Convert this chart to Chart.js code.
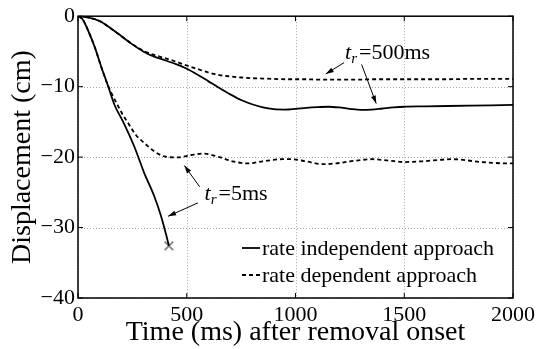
<!DOCTYPE html>
<html lang="en">
<head>
<meta charset="UTF-8">
<title>Displacement after removal onset</title>
<script src="https://cdn.jsdelivr.net/npm/chart.js@4.4.0/dist/chart.umd.min.js"></script>
<style>
  html, body { margin: 0; padding: 0; background: #fff; }
</style>
</head>
<body>
<canvas id="chart" width="539" height="349"></canvas>
<script>
// axis ticks
const xTicks = [0, 500, 1000, 1500, 2000];
const xTickLabels = ['0', '500', '1000', '1500', '2000'];
const yTicks = [0, -10, -20, -30, -40];
const yTickLabels = ['0', '\u221210', '\u221220', '\u221230', '\u221240'];

// t_r = 500 ms
const t500 = [0, 50, 100, 150, 200, 250, 300, 350, 400, 450, 500, 550, 600, 650, 700, 750, 800, 850, 900, 950,
              1000, 1050, 1100, 1150, 1200, 1250, 1300, 1350, 1400, 1450, 1500, 1600, 1700, 1800, 1900, 2000];
const indep500 = [0, -0.2, -0.7, -1.7, -2.85, -4.0, -5.0, -5.75, -6.25, -6.8, -7.45, -8.3, -9.25, -10.2, -11.1, -11.9, -12.5, -12.95, -13.2, -13.25,
                  -13.15, -13.0, -12.9, -12.85, -12.95, -13.15, -13.3, -13.25, -13.1, -12.95, -12.85, -12.8, -12.75, -12.7, -12.65, -12.6];
const dep500 = [0, -0.2, -0.7, -1.7, -2.85, -3.95, -4.9, -5.5, -5.95, -6.45, -7.0, -7.5, -8.0, -8.35, -8.55, -8.7, -8.8, -8.85, -8.9, -8.95,
                -8.95, -8.95, -9.0, -9.0, -9.0, -9.0, -9.0, -8.95, -8.95, -8.95, -8.95, -8.95, -8.95, -8.9, -8.9, -8.9];

// t_r = 5 ms
const t5 = [0, 20, 46, 76, 107, 137, 168, 206, 260, 305, 351, 382, 405, 418];
const indep5 = [0, -0.4, -2.0, -4.3, -7.2, -9.8, -12.6, -14.9, -18.6, -22.3, -25.6, -28.4, -31.0, -32.6];
const t5d = [0, 20, 46, 76, 107, 137, 160, 185, 206, 229, 267, 305, 351, 397, 458, 521, 574, 650, 711, 780, 849,
             940, 985, 1048, 1124, 1185, 1277, 1352, 1430, 1500, 1582, 1719, 1857, 1980, 2000];
const dep5 = [0, -0.4, -2.0, -4.3, -7.2, -9.8, -11.3, -12.8, -14.0, -15.1, -16.9, -18.0, -19.2, -19.9, -20.05, -19.7, -19.5, -20.0, -20.6, -20.9, -20.6,
              -20.3, -20.3, -20.6, -21.0, -20.9, -20.5, -20.3, -20.5, -20.7, -20.6, -20.3, -20.7, -20.9, -20.9];

// end of the 5 ms rate independent run
const stopX = [418];
const stopY = [-32.6];

// annotations, in data units
const notes = [
  { label: '500ms', x: 1228, y: -6.1 },
  { label: '5ms', x: 582, y: -26.1 }
];
const arrows = [
  [1223, -6.6, 1139, -8.2],
  [1304, -6.85, 1371, -12.4],
  [559, -24.2, 489, -21.2],
  [551, -26.5, 414, -28.4]
];

const serif = '"Liberation Serif", "Times New Roman", serif';
const pts = (xs, ys) => xs.map((x, i) => ({ x: x, y: ys[i] }));

const line = (label, xs, ys, dash) => ({
  label: label,
  data: pts(xs, ys),
  borderColor: '#000',
  borderWidth: 1.8,
  borderDash: dash,
  pointRadius: 0,
  fill: false,
  cubicInterpolationMode: 'monotone'
});

// dotted grid under the data
const dotGrid = {
  id: 'dotGrid',
  beforeDatasetsDraw(chart) {
    const { ctx, chartArea: a, scales: { x, y } } = chart;
    ctx.save();
    ctx.strokeStyle = '#a8a8a8';
    ctx.lineWidth = 1;
    ctx.setLineDash([1, 2]);
    ctx.beginPath();
    xTicks.forEach(v => {
      const px = Math.round(x.getPixelForValue(v)) + 0.5;
      ctx.moveTo(px, a.top); ctx.lineTo(px, a.bottom);
    });
    yTicks.forEach(v => {
      const py = Math.round(y.getPixelForValue(v)) + 0.5;
      ctx.moveTo(a.left, py); ctx.lineTo(a.right, py);
    });
    ctx.stroke();
    ctx.restore();
  }
};

const frame = {
  id: 'frame',
  afterDatasetsDraw(chart) {
    const { ctx, chartArea: a, scales: { x, y } } = chart;
    ctx.save();
    ctx.strokeStyle = '#000';
    ctx.lineWidth = 1;
    ctx.beginPath();
    xTicks.forEach(v => {
      const px = x.getPixelForValue(v);
      ctx.moveTo(px, a.bottom); ctx.lineTo(px, a.bottom - 5);
      ctx.moveTo(px, a.top); ctx.lineTo(px, a.top + 5);
    });
    yTicks.forEach(v => {
      const py = y.getPixelForValue(v);
      ctx.moveTo(a.left, py); ctx.lineTo(a.left + 5, py);
      ctx.moveTo(a.right, py); ctx.lineTo(a.right - 5, py);
    });
    ctx.stroke();
    ctx.lineWidth = 1.5;
    ctx.strokeRect(a.left, a.top, a.right - a.left, a.bottom - a.top);

    // arrows
    ctx.fillStyle = '#000';
    ctx.lineWidth = 1;
    arrows.forEach(([x0, y0, x1, y1]) => {
      const ax = x.getPixelForValue(x0), ay = y.getPixelForValue(y0);
      const bx = x.getPixelForValue(x1), by = y.getPixelForValue(y1);
      const ang = Math.atan2(by - ay, bx - ax);
      ctx.beginPath();
      ctx.moveTo(ax, ay); ctx.lineTo(bx, by);
      ctx.stroke();
      ctx.beginPath();
      ctx.moveTo(bx, by);
      ctx.lineTo(bx - 8 * Math.cos(ang) + 2.5 * Math.sin(ang), by - 8 * Math.sin(ang) - 2.5 * Math.cos(ang));
      ctx.lineTo(bx - 8 * Math.cos(ang) - 2.5 * Math.sin(ang), by - 8 * Math.sin(ang) + 2.5 * Math.cos(ang));
      ctx.closePath();
      ctx.fill();
    });

    // t_r labels
    ctx.textBaseline = 'alphabetic';
    ctx.textAlign = 'left';
    notes.forEach(n => {
      let px = x.getPixelForValue(n.x);
      const py = y.getPixelForValue(n.y);
      ctx.font = 'italic 22px ' + serif;
      ctx.fillText('t', px, py);
      px += ctx.measureText('t').width;
      ctx.font = 'italic 15px ' + serif;
      ctx.fillText('r', px, py + 4);
      px += ctx.measureText('r').width + 2;
      ctx.font = '22px ' + serif;
      ctx.fillText('=' + n.label, px, py);
    });

    // legend
    const items = chart.data.datasets.slice(0, 2);
    ctx.font = '22px ' + serif;
    ctx.textBaseline = 'middle';
    items.forEach((ds, i) => {
      const ly = 248 + i * 27;
      ctx.save();
      ctx.lineWidth = 1.8;
      ctx.setLineDash(ds.borderDash || []);
      ctx.beginPath();
      ctx.moveTo(242, ly); ctx.lineTo(260, ly);
      ctx.stroke();
      ctx.restore();
      ctx.fillText(ds.label, 262, ly + 1);
    });
    ctx.restore();
  }
};

new Chart(document.getElementById('chart').getContext('2d'), {
  type: 'line',
  data: {
    datasets: [
      line('rate independent approach', t500, indep500, []),
      line('rate dependent approach', t500, dep500, [4, 3]),
      line('rate independent approach', t5, indep5, []),
      line('rate dependent approach', t5d, dep5, [4, 3]),
      {
        label: 'end',
        data: pts(stopX, stopY),
        showLine: false,
        pointStyle: 'crossRot',
        pointRadius: 6,
        borderColor: '#888',
        borderWidth: 2
      }
    ]
  },
  options: {
    responsive: false,
    animation: false,
    devicePixelRatio: 1,
    layout: { padding: { left: 0, top: 16, right: 25, bottom: 0 } },
    plugins: { legend: { display: false }, tooltip: { enabled: false } },
    scales: {
      x: {
        type: 'linear',
        min: 0,
        max: 2000,
        afterBuildTicks: s => { s.ticks = xTicks.map(v => ({ value: v })); },
        afterFit: s => { s.height = 51; },
        ticks: {
          color: '#000',
          font: { family: serif, size: 22 },
          padding: 4,
          maxRotation: 0,
          callback: v => xTickLabels[xTicks.indexOf(v)]
        },
        grid: { display: false, drawTicks: false },
        border: { display: false },
        title: { display: true, text: 'Time (ms) after removal onset', color: '#000', font: { family: serif, size: 28 }, padding: 0 }
      },
      y: {
        min: -40,
        max: 0,
        afterBuildTicks: s => { s.ticks = yTicks.map(v => ({ value: v })); },
        afterFit: s => { s.width = 78; },
        ticks: {
          color: '#000',
          font: { family: serif, size: 22 },
          padding: 3,
          callback: v => yTickLabels[yTicks.indexOf(v)]
        },
        grid: { display: false, drawTicks: false },
        border: { display: false },
        title: { display: true, text: 'Displacement (cm)', color: '#000', font: { family: serif, size: 28 }, padding: 6 }
      }
    }
  },
  plugins: [dotGrid, frame]
});
</script>
</body>
</html>
